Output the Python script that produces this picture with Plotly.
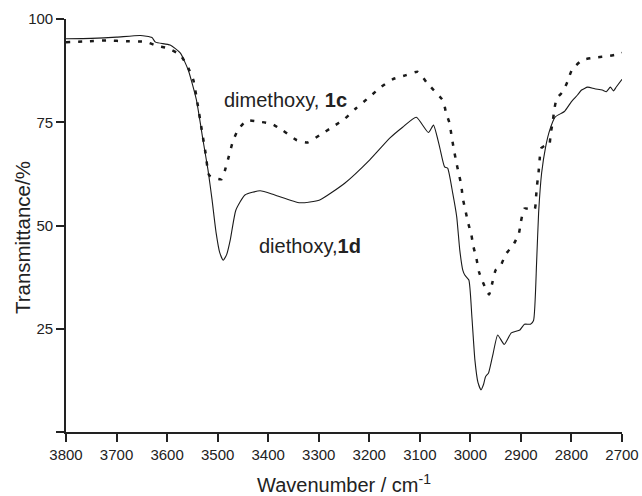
import plotly.graph_objects as go

# Diethoxy, 1d (solid line)
wn_1d = [3800, 3750, 3700, 3653, 3630, 3623, 3594, 3574, 3558, 3542, 3529, 3519, 3511, 3503,
         3496, 3489, 3482, 3475, 3464, 3446, 3416, 3387, 3337, 3298, 3248, 3199, 3159, 3134,
         3107, 3083, 3073, 3061, 3051, 3045, 3035, 3027, 3021, 3015, 3011, 3003, 2997, 2991,
         2985, 2979, 2974, 2970, 2964, 2955, 2946, 2933, 2919, 2902, 2893, 2881, 2875, 2869,
         2865, 2859, 2851, 2843, 2832, 2814, 2800, 2788, 2780, 2768, 2754, 2739, 2731, 2723,
         2717, 2711, 2700]
t_1d = [95.2, 95.3, 95.6, 96.0, 95.5, 94.4, 93.7, 91.8, 87.6, 80.4, 70.7, 63.4, 56.2, 48.2,
        43.5, 41.6, 43.0, 46.5, 53.7, 57.4, 58.4, 57.4, 55.5, 56.2, 60.3, 65.9, 71.2, 73.8,
        76.2, 72.5, 74.3, 69.1, 64.2, 63.9, 57.9, 52.1, 44.1, 39.2, 38.0, 36.8, 27.9, 17.4,
        12.0, 10.2, 11.5, 13.4, 14.3, 19.0, 23.5, 21.2, 24.0, 24.7, 26.1, 26.1, 27.0, 40.9,
        53.0, 62.7, 69.1, 73.1, 76.3, 77.6, 80.0, 81.6, 82.8, 83.5, 83.1, 82.8, 82.4, 83.5,
        82.6, 83.6, 85.4]

# Dimethoxy, 1c (dotted line)
wn_1c = [3800, 3760, 3720, 3680, 3643, 3620, 3598, 3574, 3558, 3548, 3540, 3532, 3524, 3517,
         3507, 3492, 3484, 3476, 3470, 3460, 3443, 3416, 3393, 3371, 3344, 3322, 3298, 3272,
         3248, 3226, 3199, 3176, 3154, 3127, 3104, 3085, 3054, 3048, 3041, 3037, 3033, 3028,
         3023, 3018, 3015, 3010, 3005, 2998, 2994, 2988, 2983, 2975, 2963, 2956, 2950, 2940,
         2930, 2916, 2904, 2900, 2893, 2873, 2870, 2868, 2865, 2863, 2860, 2850, 2844, 2841,
         2837, 2834, 2829, 2817, 2808, 2799, 2778, 2751, 2729, 2705, 2700]
t_1c = [94.4, 94.6, 94.8, 94.6, 94.5, 93.5, 92.9, 91.3, 88.1, 85.2, 79.7, 73.6, 67.6, 62.2,
        61.5, 61.2, 64.0, 67.6, 70.3, 73.1, 75.4, 75.1, 74.6, 73.0, 70.7, 70.1, 71.9, 73.9,
        75.9, 78.4, 81.2, 83.6, 85.4, 86.4, 87.2, 84.4, 80.2, 77.2, 74.7, 71.5, 68.7, 65.4,
        62.6, 59.8, 56.6, 53.8, 50.9, 47.7, 44.9, 42.0, 38.8, 36.2, 33.3, 36.4, 39.2, 40.3,
        43.1, 45.1, 48.1, 50.9, 54.1, 53.9, 57.0, 59.8, 63.0, 65.9, 68.7, 69.5, 69.5, 72.3,
        75.1, 78.0, 80.8, 82.4, 84.8, 87.7, 90.1, 90.7, 91.0, 91.5, 91.8]

x_ticks = [3800, 3700, 3600, 3500, 3400, 3300, 3200, 3100, 3000, 2900, 2800, 2700]
y_ticks = [0, 25, 50, 75, 100]
y_ticktext = ["", "25", "50", "75", "100"]

FONT = "Liberation Sans, Arial, Helvetica, sans-serif"
INK = "#222222"

fig = go.Figure()
fig.add_trace(go.Scatter(x=wn_1c, y=t_1c, mode="lines",
                         line=dict(color="#1a1a1a", width=2.5, dash="4px,8px", shape="spline", smoothing=0.5),
                         showlegend=False, hoverinfo="skip"))
fig.add_trace(go.Scatter(x=wn_1d, y=t_1d, mode="lines",
                         line=dict(color="#1a1a1a", width=1.1, shape="spline", smoothing=0.5),
                         showlegend=False, hoverinfo="skip"))

axis_common = dict(ticks="outside", ticklen=8, tickwidth=1.5, tickcolor=INK, showline=True,
                   linecolor=INK, linewidth=1.6, showgrid=False, zeroline=False, automargin=False,
                   tickfont=dict(size=15, family=FONT, color=INK))

fig.update_layout(
    width=642, height=496,
    margin=dict(l=66, r=20, t=19, b=64),
    plot_bgcolor="white", paper_bgcolor="white",
    font=dict(family=FONT, size=15, color=INK),
    xaxis=dict(range=[3800, 2700], tickvals=x_ticks, **axis_common),
    yaxis=dict(range=[0, 100], tickvals=y_ticks, ticktext=y_ticktext, **axis_common),
    annotations=[
        dict(text="Wavenumber / cm<sup>-1</sup>", xref="paper", yref="paper", x=0.5, y=-0.1235,
             xanchor="center", yanchor="middle", showarrow=False, font=dict(size=20, family=FONT, color=INK)),
        dict(text="Transmittance/%", xref="paper", yref="paper", x=-0.078, y=0.471, textangle=-90,
             xanchor="center", yanchor="middle", showarrow=False, font=dict(size=20.5, family=FONT, color=INK)),
        dict(text="dimethoxy, <b>1c</b>", xref="x", yref="y", x=3491, y=80.4,
             xanchor="left", yanchor="middle", showarrow=False, font=dict(size=20, family=FONT, color=INK)),
        dict(text="diethoxy,<b>1d</b>", xref="x", yref="y", x=3423, y=45.1,
             xanchor="left", yanchor="middle", showarrow=False, font=dict(size=20, family=FONT, color=INK)),
    ],
)

fig.write_html("out.html", config={"displayModeBar": False},
               post_script="document.body.style.margin='0';document.body.style.overflow='hidden';")
